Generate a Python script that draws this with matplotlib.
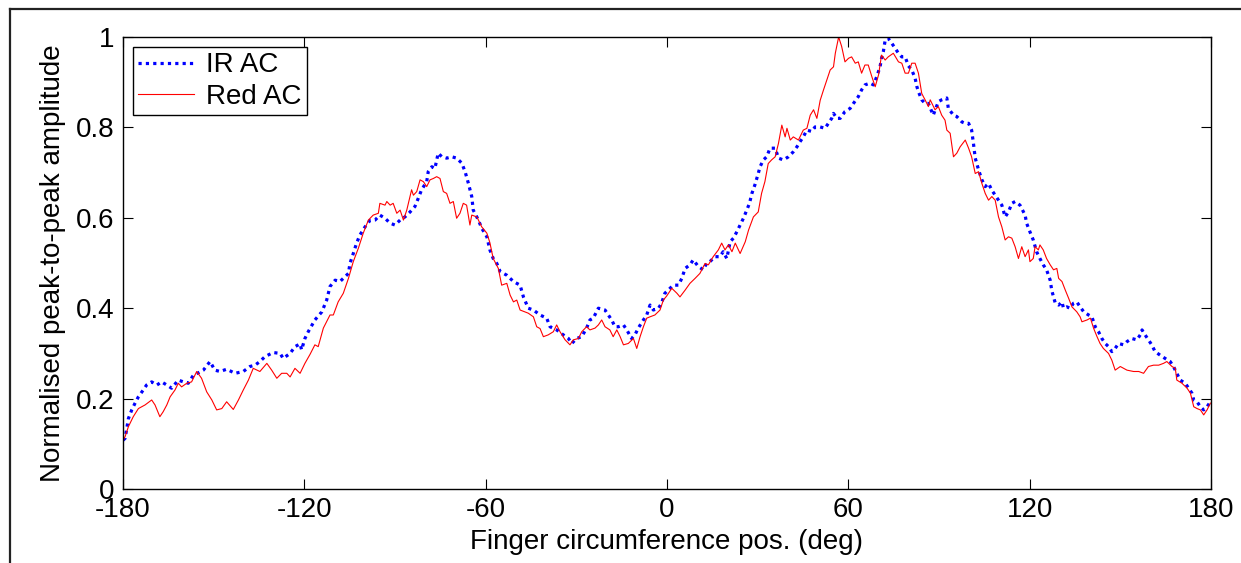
import matplotlib
matplotlib.use('Agg')
import matplotlib.pyplot as plt
from matplotlib.lines import Line2D

plt.rcParams['font.family'] = ['Liberation Sans', 'DejaVu Sans']

# -------------- Data ---------------------------------------
ir_deg = [-180.0, -179.3, -178.2, -177.1, -176.0, -174.9, -173.3, -172.2, -170.5, -168.8,
          -167.2, -165.5, -163.9, -161.7, -160.0, -158.4, -156.7, -155.1, -153.4, -151.2,
          -149.6, -147.9, -145.7, -142.9, -140.2, -138.0, -136.3, -134.7, -133.0, -130.3,
          -128.0, -127.0, -124.7, -123.1, -121.4, -120.9, -119.8, -118.7, -116.5, -114.2,
          -112.6, -111.5, -109.8, -108.2, -106.5, -105.4, -104.9, -103.8, -102.7, -101.6,
          -99.9, -98.3, -96.6, -95.0, -93.3, -91.6, -90.0, -88.3, -86.7, -85.0,
          -83.4, -82.3, -81.2, -79.5, -79.0, -77.8, -76.8, -75.7, -74.5, -72.9,
          -71.2, -69.6, -67.9, -66.8, -65.7, -64.6, -64.1, -62.4, -61.3, -59.6,
          -58.6, -57.5, -56.3, -55.2, -53.0, -50.8, -48.6, -47.5, -45.9, -44.2,
          -42.0, -39.8, -38.7, -36.5, -34.3, -32.6, -31.5, -29.9, -28.2, -26.6,
          -25.5, -24.4, -22.7, -20.5, -18.3, -17.2, -16.1, -14.4, -13.3, -11.7,
          -10.6, -9.5, -7.8, -6.7, -5.6, -4.5, -2.8, -1.8, -0.7, 2.1,
          3.8, 4.9, 6.0, 7.6, 8.7, 10.4, 12.0, 13.1, 14.2, 15.9,
          17.5, 18.6, 19.8, 20.9, 22.0, 23.1, 24.2, 25.3, 26.4, 27.3,
          28.1, 29.1, 30.2, 30.8, 31.9, 33.0, 34.1, 35.8, 36.9, 38.5,
          40.2, 41.8, 43.0, 44.0, 45.1, 46.3, 47.9, 49.0, 50.7, 52.3,
          53.4, 54.5, 55.1, 56.2, 57.3, 58.9, 60.6, 61.7, 63.3, 64.4,
          65.5, 67.2, 68.3, 69.4, 70.5, 71.0, 71.6, 72.2, 73.2, 74.4,
          75.5, 76.6, 77.7, 78.8, 79.9, 81.0, 82.1, 82.7, 83.2, 84.3,
          85.4, 86.5, 88.1, 89.8, 90.9, 92.6, 93.1, 94.8, 95.9, 97.6,
          98.7, 99.8, 100.8, 101.4, 102.0, 103.1, 104.2, 105.3, 106.4, 107.5,
          108.6, 109.7, 110.8, 111.9, 113.0, 114.1, 115.2, 116.8, 118.5, 119.0,
          120.1, 121.2, 122.3, 123.4, 124.5, 125.6, 126.8, 127.3, 127.9, 128.5,
          129.6, 130.7, 131.2, 132.3, 133.4, 134.5, 135.6, 136.7, 137.9, 139.5,
          140.6, 141.7, 142.8, 143.9, 145.0, 146.1, 147.2, 148.3, 149.4, 151.1,
          152.2, 153.8, 155.5, 156.6, 157.2, 158.2, 159.3, 160.4, 161.5, 163.2,
          164.8, 166.5, 167.6, 168.7, 169.8, 171.5, 172.6, 173.7, 174.3, 175.4,
          176.5, 177.6, 178.7, 179.8]
ir_amp = [0.108, 0.112, 0.156, 0.175, 0.190, 0.204, 0.219, 0.230, 0.237, 0.230,
          0.237, 0.230, 0.223, 0.241, 0.237, 0.234, 0.252, 0.257, 0.263, 0.282,
          0.263, 0.260, 0.265, 0.256, 0.260, 0.271, 0.274, 0.282, 0.293, 0.302,
          0.300, 0.289, 0.300, 0.315, 0.321, 0.308, 0.333, 0.348, 0.374, 0.392,
          0.418, 0.448, 0.462, 0.459, 0.470, 0.477, 0.499, 0.521, 0.544, 0.562,
          0.580, 0.594, 0.595, 0.606, 0.599, 0.588, 0.584, 0.595, 0.602, 0.613,
          0.625, 0.643, 0.662, 0.680, 0.702, 0.713, 0.709, 0.743, 0.735, 0.732,
          0.735, 0.732, 0.721, 0.702, 0.676, 0.647, 0.617, 0.595, 0.577, 0.558,
          0.529, 0.510, 0.499, 0.481, 0.473, 0.459, 0.451, 0.425, 0.400, 0.396,
          0.385, 0.378, 0.359, 0.352, 0.341, 0.333, 0.322, 0.333, 0.337, 0.356,
          0.374, 0.378, 0.400, 0.396, 0.374, 0.359, 0.359, 0.363, 0.352, 0.333,
          0.341, 0.356, 0.374, 0.385, 0.407, 0.396, 0.400, 0.411, 0.433, 0.451,
          0.451, 0.466, 0.488, 0.496, 0.507, 0.492, 0.485, 0.499, 0.503, 0.514,
          0.514, 0.525, 0.510, 0.547, 0.555, 0.569, 0.584, 0.599, 0.617, 0.632,
          0.654, 0.673, 0.698, 0.713, 0.728, 0.735, 0.754, 0.754, 0.732, 0.728,
          0.735, 0.746, 0.757, 0.768, 0.779, 0.794, 0.791, 0.801, 0.801, 0.798,
          0.809, 0.820, 0.831, 0.820, 0.820, 0.835, 0.842, 0.853, 0.868, 0.883,
          0.894, 0.898, 0.894, 0.912, 0.934, 0.953, 0.968, 0.993, 0.997, 0.986,
          0.975, 0.964, 0.956, 0.956, 0.936, 0.927, 0.909, 0.890, 0.879, 0.861,
          0.853, 0.853, 0.827, 0.857, 0.861, 0.865, 0.842, 0.827, 0.824, 0.812,
          0.809, 0.809, 0.794, 0.765, 0.732, 0.706, 0.684, 0.669, 0.676, 0.661,
          0.650, 0.639, 0.628, 0.602, 0.613, 0.632, 0.636, 0.628, 0.606, 0.588,
          0.569, 0.551, 0.525, 0.510, 0.496, 0.485, 0.462, 0.440, 0.425, 0.411,
          0.407, 0.414, 0.400, 0.403, 0.400, 0.411, 0.414, 0.403, 0.392, 0.385,
          0.381, 0.359, 0.348, 0.333, 0.322, 0.315, 0.304, 0.311, 0.322, 0.319,
          0.326, 0.333, 0.330, 0.341, 0.352, 0.341, 0.330, 0.319, 0.304, 0.296,
          0.289, 0.282, 0.271, 0.256, 0.241, 0.234, 0.223, 0.212, 0.197, 0.193,
          0.182, 0.175, 0.182, 0.193]

red_deg = [-180.0, -179.3, -178.2, -176.6, -174.9, -172.7, -170.5, -169.4, -167.8, -166.7,
           -165.5, -164.4, -162.8, -161.7, -160.6, -158.9, -157.3, -155.6, -154.0, -152.3,
           -150.6, -149.0, -147.3, -145.7, -143.5, -141.8, -140.2, -138.5, -136.9, -134.7,
           -132.4, -130.8, -129.1, -127.5, -125.8, -124.7, -123.1, -121.4, -119.8, -118.1,
           -116.5, -115.4, -113.7, -111.5, -110.4, -108.8, -107.1, -105.4, -103.8, -102.1,
           -100.5, -98.8, -97.2, -95.5, -95.0, -93.3, -92.7, -91.6, -90.6, -89.4,
           -88.3, -87.2, -86.1, -84.5, -83.9, -82.8, -81.7, -80.6, -79.5, -78.4,
           -77.3, -76.2, -75.1, -74.0, -72.9, -71.8, -70.7, -69.6, -68.5, -67.4,
           -66.3, -65.2, -64.6, -62.9, -61.3, -59.6, -58.6, -57.5, -55.8, -54.7,
           -53.0, -51.9, -50.8, -49.7, -48.6, -47.0, -45.9, -44.2, -43.1, -42.0,
           -40.9, -39.3, -37.6, -36.5, -35.4, -33.7, -32.1, -31.0, -29.3, -28.2,
           -26.6, -25.5, -23.8, -22.7, -21.6, -20.5, -18.9, -17.8, -16.6, -15.5,
           -14.4, -12.8, -11.1, -10.0, -8.9, -7.8, -6.7, -5.6, -4.0, -2.3,
           -1.2, -0.1, 1.6, 3.3, 4.3, 6.0, 7.6, 9.3, 10.9, 12.6,
           13.7, 15.3, 17.0, 18.1, 19.2, 20.3, 21.5, 22.6, 24.2, 25.9,
           27.0, 28.6, 30.2, 31.3, 32.4, 33.5, 34.6, 35.8, 36.9, 38.0,
           39.1, 39.7, 40.8, 41.8, 43.5, 45.1, 46.3, 47.4, 48.5, 49.6,
           50.7, 51.8, 52.9, 54.0, 55.1, 55.7, 56.8, 57.8, 58.9, 60.1,
           61.1, 62.3, 63.3, 64.4, 65.5, 66.6, 67.8, 68.9, 70.0, 71.0,
           72.2, 73.2, 74.9, 76.6, 77.7, 78.8, 79.9, 81.0, 82.1, 83.2,
           84.3, 85.4, 86.5, 87.1, 88.7, 89.8, 90.9, 92.0, 92.6, 93.7,
           94.8, 95.9, 97.0, 98.7, 99.8, 100.8, 102.0, 103.1, 104.2, 105.3,
           106.4, 107.5, 108.6, 109.7, 110.8, 111.9, 113.0, 114.1, 115.2, 116.3,
           117.4, 118.5, 119.6, 120.1, 121.2, 121.8, 122.9, 123.4, 124.5, 125.6,
           126.8, 127.9, 129.0, 129.6, 130.7, 131.8, 132.9, 134.0, 135.6, 136.7,
           137.3, 139.0, 140.1, 141.2, 142.3, 143.3, 144.4, 146.1, 147.2, 148.3,
           150.0, 152.2, 154.4, 156.1, 157.7, 159.3, 161.0, 162.7, 164.3, 165.4,
           167.1, 168.2, 168.7, 170.4, 172.1, 173.2, 174.3, 175.4, 176.5, 177.6,
           178.7, 179.8]
red_amp = [0.108, 0.116, 0.138, 0.160, 0.178, 0.186, 0.197, 0.186, 0.160, 0.171,
           0.186, 0.204, 0.219, 0.234, 0.226, 0.234, 0.237, 0.260, 0.245, 0.215,
           0.197, 0.175, 0.178, 0.193, 0.176, 0.197, 0.219, 0.241, 0.267, 0.260,
           0.278, 0.263, 0.245, 0.256, 0.256, 0.248, 0.267, 0.256, 0.278, 0.298,
           0.319, 0.315, 0.356, 0.385, 0.385, 0.414, 0.433, 0.466, 0.503, 0.533,
           0.566, 0.595, 0.606, 0.610, 0.632, 0.628, 0.636, 0.628, 0.632, 0.610,
           0.617, 0.595, 0.617, 0.662, 0.650, 0.658, 0.684, 0.680, 0.669, 0.684,
           0.687, 0.691, 0.687, 0.658, 0.654, 0.632, 0.636, 0.599, 0.610, 0.632,
           0.628, 0.584, 0.606, 0.602, 0.580, 0.566, 0.545, 0.510, 0.488, 0.451,
           0.455, 0.429, 0.414, 0.418, 0.396, 0.392, 0.389, 0.381, 0.359, 0.355,
           0.337, 0.341, 0.348, 0.363, 0.348, 0.330, 0.319, 0.330, 0.333, 0.348,
           0.359, 0.352, 0.356, 0.363, 0.374, 0.359, 0.352, 0.337, 0.352, 0.337,
           0.319, 0.322, 0.333, 0.311, 0.337, 0.359, 0.378, 0.381, 0.385, 0.396,
           0.418, 0.427, 0.444, 0.433, 0.425, 0.440, 0.455, 0.466, 0.477, 0.499,
           0.496, 0.514, 0.529, 0.544, 0.529, 0.540, 0.525, 0.544, 0.521, 0.547,
           0.573, 0.602, 0.613, 0.654, 0.680, 0.720, 0.728, 0.735, 0.765, 0.805,
           0.779, 0.798, 0.772, 0.779, 0.772, 0.794, 0.798, 0.827, 0.839, 0.820,
           0.860, 0.883, 0.905, 0.927, 0.934, 0.964, 1.000, 0.979, 0.945, 0.953,
           0.956, 0.942, 0.945, 0.920, 0.938, 0.938, 0.912, 0.890, 0.916, 0.960,
           0.949, 0.956, 0.964, 0.945, 0.942, 0.920, 0.920, 0.942, 0.942, 0.920,
           0.875, 0.861, 0.846, 0.861, 0.839, 0.846, 0.827, 0.816, 0.794, 0.787,
           0.735, 0.743, 0.757, 0.772, 0.754, 0.735, 0.698, 0.702, 0.676, 0.654,
           0.639, 0.647, 0.639, 0.602, 0.580, 0.551, 0.558, 0.555, 0.536, 0.510,
           0.536, 0.514, 0.529, 0.503, 0.510, 0.536, 0.529, 0.540, 0.529, 0.510,
           0.496, 0.485, 0.488, 0.466, 0.459, 0.440, 0.422, 0.403, 0.392, 0.381,
           0.370, 0.374, 0.378, 0.355, 0.337, 0.322, 0.311, 0.300, 0.285, 0.263,
           0.271, 0.263, 0.260, 0.260, 0.256, 0.271, 0.274, 0.274, 0.278, 0.282,
           0.271, 0.267, 0.241, 0.234, 0.223, 0.212, 0.182, 0.178, 0.175, 0.164,
           0.175, 0.190]

x_ticks = [-180, -120, -60, 0, 60, 120, 180]
y_ticks = [0, 0.2, 0.4, 0.6, 0.8, 1]
y_tick_labels = ['0', '0.2', '0.4', '0.6', '0.8', '1']

# -------------- Figure ----------------
fig = plt.figure(figsize=(12.41, 5.63), dpi=100)
ax = fig.add_axes([0.0991, 0.1314, 0.8767, 0.8029])

ax.plot(ir_deg, ir_amp, color='#0000ff', linestyle=(0, (1, 1.3)), linewidth=2.3,
        label='IR AC')
ax.plot(red_deg, red_amp, color='#ff0000', linewidth=0.8, label='Red AC')

ax.set_xlim(-180, 180)
ax.set_ylim(0, 1)
ax.set_xticks(x_ticks)
ax.set_xticklabels([str(t) for t in x_ticks])
ax.set_yticks(y_ticks)
ax.set_yticklabels(y_tick_labels)

ax.tick_params(direction='in', length=7.5, width=0.8, top=True, right=True,
               labelsize=20, pad=6)
for s in ax.spines.values():
    s.set_linewidth(1.0)

ax.set_xlabel('Finger circumference pos. (deg)', fontsize=20, labelpad=4)
ax.set_ylabel('Normalised peak-to-peak amplitude', fontsize=20, labelpad=7)

leg = ax.legend(loc='upper left', fontsize=20, frameon=True, fancybox=False,
                edgecolor='black', framealpha=1, borderaxespad=0.35, borderpad=0.2,
                labelspacing=0.2, handlelength=2.0, handletextpad=0.45)
leg.get_frame().set_linewidth(1.0)

# border lines of the cropped figure (top and left)
fig.add_artist(Line2D([10 / 1241, 1], [1 - 9 / 563, 1 - 9 / 563],
                      transform=fig.transFigure, color='#222222', linewidth=1.6))
fig.add_artist(Line2D([10 / 1241, 10 / 1241], [0, 1 - 9 / 563],
                      transform=fig.transFigure, color='#222222', linewidth=1.6))

fig.savefig('out.png', dpi=100)
